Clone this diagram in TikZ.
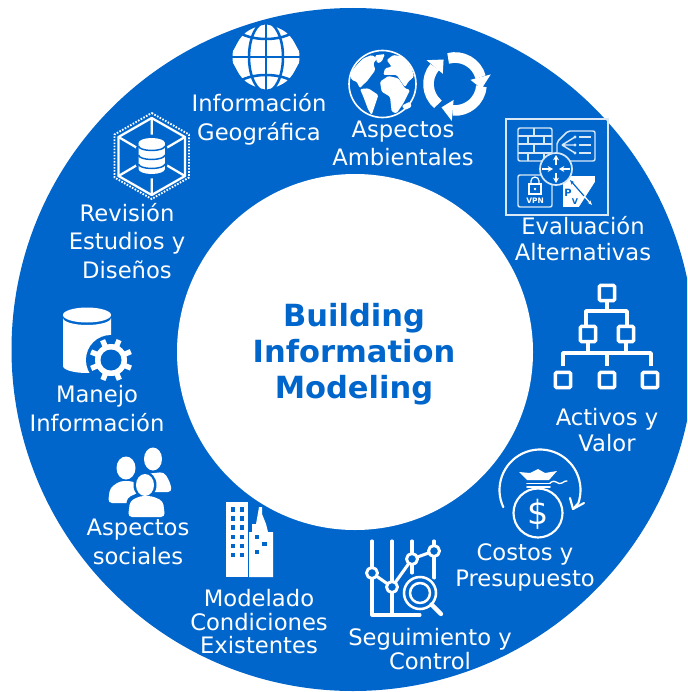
\documentclass[tikz,border=0pt]{standalone}
\usepackage{fontspec}
\setmainfont{DejaVu Sans}
\usetikzlibrary{calc,arrows.meta}
\definecolor{ringblue}{HTML}{0066CC}
\tikzset{
  x=0.75pt,y=-0.75pt,
  lbl/.style={text=white,align=center,inner sep=0pt,font=\fontsize{17}{#1}\selectfont},
  title/.style={text=ringblue,align=center,inner sep=0pt,font=\bfseries\fontsize{22.9}{27}\selectfont},
  wl/.style={draw=white,line width=#1,line cap=round,line join=round},
  wl/.default=1.8pt,
  thin icon/.style={draw=white!85!ringblue,line width=1.1pt,rounded corners=1.5pt},
  sq/.style={draw=white,line width=2.6pt,fill=ringblue,minimum size=11.5pt,inner sep=0pt,rounded corners=1pt,shape=rectangle},
  win/.style={fill=ringblue}
}
\newcommand{\wnd}[2]{\fill[win] (#1-2.3,#2-2.3) rectangle (#1+2.3,#2+2.3);}
\begin{document}
\begin{tikzpicture}
\useasboundingbox (0,0) rectangle (687,692);
\clip (0,0) rectangle (687,692);
\fill[white] (0,0) rectangle (687,692);
\fill[ringblue] (353,349.5) circle[radius=341.5];
\fill[white] (355,352) circle[radius=178];

% central title
\node[title] (core) at (354,354) {Building\\Information\\Modeling};

% labels
\node[lbl=21.7pt] (geo) at (259,119) {Información\\Geográfica};
\node[lbl=21pt] (amb) at (403,143) {Aspectos\\Ambientales};
\node[lbl=19.5pt] (eva) at (583,239) {Evaluación\\Alternativas};
\node[lbl=19.5pt] (act) at (607,430) {Activos y\\Valor};
\node[lbl=19.5pt] (cos) at (525,567) {Costos y\\Presupuesto};
\node[lbl=18pt] (seg) at (430,649) {Seguimiento y\\Control};
\node[lbl=17.6pt] (mod) at (259,622) {Modelado\\Condiciones\\Existentes};
\node[lbl=22pt] (soc) at (138,542) {Aspectos\\sociales};
\node[lbl=21.7pt] (man) at (97,409) {Manejo\\Información};
\node[lbl=21.5pt] (rev) at (127,241) {Revisión\\Estudios y\\Diseños};

% wire globe
\fill[white] (266,57) circle[radius=33.5];
\begin{scope}[draw=ringblue,line width=1.9pt]
  \draw (266,22) -- (266,92);
  \draw (266,57) ellipse[x radius=17,y radius=35];
  \draw (231,57) -- (301,57);
  \draw (235,30) .. controls (250,42) and (282,42) .. (297,30);
  \draw (235,84) .. controls (250,72) and (282,72) .. (297,84);
  \draw (266,23) .. controls (240,28) and (238,40) .. (232,50);
  \draw (266,23) .. controls (292,28) and (294,40) .. (300,50);
  \draw (266,91) .. controls (240,86) and (238,74) .. (232,64);
  \draw (266,91) .. controls (292,86) and (294,74) .. (300,64);
\end{scope}

% earth
\draw[wl=1.2pt] (382.5,84) circle[radius=33.5];
\begin{scope}[shift={(340,40)},x=0.25pt,y=-0.25pt]
  \fill[white,rounded corners=1pt] (30,100)--(50,75)--(70,55)--(95,45)--(112,55)--(100,70)--(106,90)--(95,105)--(80,125)--(68,135)--(60,145)--(50,125)--(35,120)--cycle;
  \fill[white,rounded corners=1pt] (105,46)--(135,42)--(125,65)--(112,70)--cycle;
  \fill[white,rounded corners=1pt] (60,147)--(85,145)--(115,165)--(105,195)--(95,225)--(85,210)--(70,170)--cycle;
  \fill[white,rounded corners=1pt] (120,125)--(145,108)--(175,115)--(195,145)--(210,150)--(190,190)--(170,220)--(155,215)--(150,170)--(125,155)--cycle;
  \fill[white,rounded corners=1pt] (140,60)--(160,45)--(190,50)--(215,85)--(222,110)--(205,125)--(195,142)--(170,105)--(130,105)--(135,85)--(155,80)--cycle;
  \fill[white,rounded corners=1pt] (185,197)--(210,185)--(215,200)--(195,210)--cycle;
\end{scope}

% cycle arrows
\begin{scope}[shift={(455,84)}]
  \foreach \b in {345,95,220}{
    \draw[white,line width=8pt] (\b-90:26.5) arc[start angle=\b-90,end angle=\b,radius=26.5];
    \fill[white] (\b:16)--(\b:37)--(\b+25:27)--cycle;
  }
\end{scope}

% alternatives box
\draw[draw=white!85!ringblue,line width=1.5pt] (506,119) rectangle (608,215);
\draw[thin icon] (518,128) rectangle (552,161);
\begin{scope}[draw=white!85!ringblue,line width=1.1pt]
  \draw (518,136)--(552,136) (518,144)--(552,144) (518,153)--(552,153);
  \draw (534,128)--(534,136) (528,136)--(528,144) (544,136)--(544,144) (534,144)--(534,153) (528,153)--(528,161) (544,153)--(544,161);
\end{scope}
\draw[thin icon] (557,142)--(568,131)--(595,131)--(595,161)--(557,161)--cycle;
\begin{scope}[draw=white!85!ringblue,line width=1.1pt]
  \draw (562,145)--(575,137) (562,145)--(575,145) (562,145)--(575,153);
  \draw (579,137)--(591,137) (579,145)--(591,145) (579,153)--(591,153);
  \fill[white!85!ringblue] (575,137) circle[radius=1.6] (575,145) circle[radius=1.6] (575,153) circle[radius=1.6];
\end{scope}
\draw[thin icon] (518,175) rectangle (552,207);
\fill[white] (563,176) rectangle (595,207);
\fill[ringblue] (595,182) -- (595,207) -- (579,207) -- cycle;
\draw[ringblue,line width=0.9pt,{Stealth[length=3.5pt]}-] (570,180)--(584,196);
\draw[white,line width=0.9pt,-{Stealth[length=3.5pt]}] (584,196)--(592,205);
\node[text=ringblue,inner sep=0pt,font=\bfseries\fontsize{7.5}{7.5}\selectfont] (pp) at (568,193) {P};
\node[text=ringblue,inner sep=0pt,font=\bfseries\fontsize{6}{6}\selectfont] (vv) at (575,202) {V};
\node[text=white,inner sep=0pt,font=\bfseries\fontsize{5.6}{6}\selectfont] (vpn) at (535,201) {VPN};
\draw[white,line width=0.9pt] (531,184) -- (531,181) arc[start angle=180,end angle=360,radius=4] -- (539,184);
\draw[white,line width=0.9pt,fill=ringblue] (529,184) rectangle (541,194);
\fill[white] (535,189) circle[radius=1.3];
\draw[draw=white!85!ringblue,line width=1.3pt,fill=ringblue] (556,169) circle[radius=16];
\begin{scope}[white,line width=1.4pt,-{Stealth[length=4pt,width=4.5pt]}]
  \draw (556,165)--(556,155);
  \draw (556,173)--(556,183);
  \draw (542,169)--(553,169);
  \draw (570,169)--(559,169);
\end{scope}

% hexagon database
\draw[white,line width=1.4pt,dash pattern=on 1.2pt off 1.1pt] (151.7,113)--(189,134.5)--(189,177.5)--(151.7,199)--(114.5,177.5)--(114.5,134.5)--cycle;
\draw[wl=1.7pt] (151.7,118)--(185,137)--(185,176)--(151.7,195)--(118.5,176)--(118.5,137)--cycle;
\draw[wl=1.7pt] (151.7,118)--(151.7,195) (118.5,137)--(185,176) (185,137)--(118.5,176);
\fill[ringblue] (151.7,156.5) ellipse[x radius=17,y radius=22];
\fill[white] (138.5,143)--(138.5,169) arc[start angle=180,end angle=0,x radius=13.2,y radius=5] -- (164.9,143)--cycle;
\fill[white] (151.7,143) ellipse[x radius=13.2,y radius=5];
\foreach \yy in {148,157,166}{
  \draw[ringblue,line width=1.1pt] (138.5,\yy-2) arc[start angle=180,end angle=0,x radius=13.2,y radius=4.5];
}

% cylinder and gear
\fill[white] (63,318) -- (63,366) arc[start angle=180,end angle=0,x radius=24,y radius=7] -- (111,318) arc[start angle=0,end angle=180,x radius=24,y radius=7]--cycle;
\fill[white] (87,315) ellipse[x radius=24,y radius=7.5];
\fill[ringblue] (111,360) circle[radius=25];
\foreach \a in {0,45,...,315}{
  \draw[white,line width=4pt,line cap=butt] (\a+22:14) ++(111,360) -- ++(\a+22:7.5);
}
\fill[white] (111,360) circle[radius=16];
\fill[ringblue] (111,360) circle[radius=10.5];

% people
\fill[white] (126,468) ellipse[x radius=9.5,y radius=11.5];
\fill[white] (153,459) ellipse[x radius=9,y radius=11.5];
\fill[white,rounded corners=3pt] (108,503)--(110,488)--(120,481)--(132,481)--(145,488)--(145,503)--cycle;
\fill[white,rounded corners=3pt] (145,474)--(164,472)--(170,482)--(172,492)--(140,492)--cycle;
\fill[ringblue] (145,485) ellipse[x radius=11.5,y radius=13.5];
\fill[ringblue,rounded corners=3pt] (125,518)--(127,498)--(140,492)--(152,492)--(167,498)--(168,518)--cycle;
\fill[white] (145,485) ellipse[x radius=9,y radius=11];
\fill[white,rounded corners=3pt] (128,517)--(130,501)--(140,496)--(152,496)--(163,501)--(165,517)--cycle;

% buildings
\fill[white] (226,502) rectangle (248,577);
\fill[white] (249,577)--(249,532)--(252,532)--(252,524)--(256,524)--(258,513)--(259,507)--(262,507)--(262,514)--(266,524)--(268,532)--(273,532)--(273,577)--cycle;
\foreach \yy in {509.5,518.5,527.5,537,546,555}{ \wnd{233}{\yy} \wnd{242}{\yy} }
\wnd{257}{537} \wnd{264.5}{544} \wnd{257}{552}

% chart with lens
\draw[wl=2.3pt] (372,541)--(372,615)--(420,615);
\draw[wl=2.3pt] (392,541)--(392,613);
\draw[wl=2.3pt] (412,541)--(412,573);
\draw[wl=2.3pt] (434,541)--(434,578);
\draw[wl=2.3pt] (372,573)--(392,587)--(412,559)--(434,551);
\foreach \px/\py in {372/573,392/587,412/559,434/551}{
  \draw[wl=2.2pt,fill=ringblue] (\px,\py) circle[radius=5.5];
}
\fill[ringblue] (420,593) circle[radius=19];
\draw[wl=1.9pt] (420,593) circle[radius=16];
\draw[wl=1.9pt] (420,593) circle[radius=10];
\draw[wl=3.2pt] (431.5,604.5)--(441,614);

% hierarchy
\draw[wl=2.6pt,line cap=butt] (607,302)--(607,311);
\draw[wl=2.6pt,line cap=butt] (586,325)--(586,311)--(627,311)--(627,325);
\draw[wl=2.6pt,line cap=butt] (588,343)--(588,353) (626,343)--(626,353) (607,353)--(607,366);
\draw[wl=2.6pt,line cap=butt] (563,366)--(563,353)--(651,353)--(651,366);
\foreach \nm/\qx/\qy in {ha/607/293,hb/588/334,hc/626/334,hd/563/380,he/607/380,hf/650/380}{
  \node[sq] (\nm) at (\qx,\qy) {};
}

% money bag
\draw[wl=1.6pt] (540,490) ++(155:40.5) arc[start angle=155,end angle=379,radius=40.5] -- (573,509);
\draw[wl=1.6pt] (584,503)--(573,509)--(570,498);
\draw[wl=1.6pt] (538,513) circle[radius=24.5];
\fill[white] (519,472)--(530,473)--(538,469)--(545,473)--(557,471)--(549,480)--(527,480)--cycle;
\draw[wl=1.3pt] (527,483.5)--(550,483.5) (527,487)--(550,487);
\draw[wl=1pt] (550,483) .. controls (556,478) and (558,486) .. (562,483) .. controls (564,481) and (566,481) .. (567,481);
\node[text=white,inner sep=0pt,font=\fontsize{25}{25}\selectfont] (dollar) at (538,514) {\$};
\end{tikzpicture}
\end{document}
